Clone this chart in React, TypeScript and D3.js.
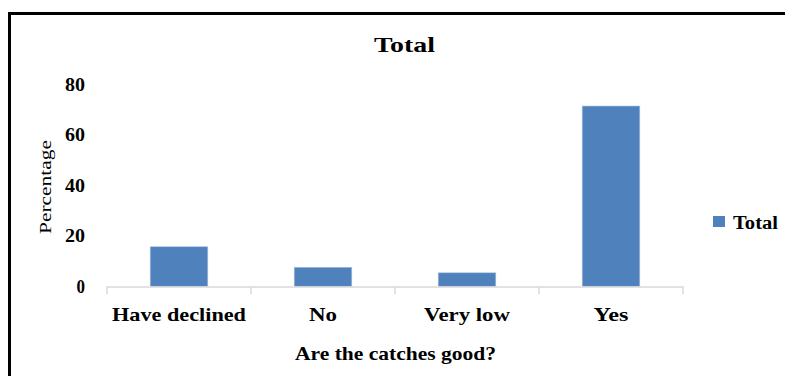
import React from "react";
import * as d3 from "d3";

// Survey answers: "Are the catches good?"
const categories = ["Have declined", "No", "Very low", "Yes"];
const totalValues = [15.7, 7.6, 5.4, 71.3];
const yTicks = [0, 20, 40, 60, 80];
const seriesName = "Total";
const chartTitle = "Total";
const xAxisTitle = "Are the catches good?";
const yAxisTitle = "Percentage";

// Rendered widths of the category labels in the condensed bold serif face
const categoryLabelWidths = [134, 28, 86, 35];

const W = 785;
const H = 376;
const FONT = "'Times New Roman', Times, Tinos, 'Liberation Serif', serif";
const BAR = "#4f81bd";

export default function App() {
  const x = d3.scaleBand<string>().domain(categories).range([107, 683]).paddingInner(0.6).paddingOuter(0.3);
  const y = d3.scaleLinear().domain([0, 80]).range([286.5, 84]);
  const step = x.step();
  const left = 107;
  const y0 = y(0);

  return (
    <svg
      width={W}
      height={H}
      viewBox={`0 0 ${W} ${H}`}
      style={{ position: "absolute", left: 0, top: 0, display: "block", background: "#fff" }}
    >
      <rect x={0} y={0} width={W} height={H} fill="#fff" />
      {/* outer frame */}
      <rect x={9.5} y={13.5} width={W + 20} height={H + 20} fill="none" stroke="#000" strokeWidth={3} />

      {/* title */}
      <text x={404.5} y={52} textAnchor="middle" fontFamily={FONT} fontWeight="bold" fontSize={22}
        textLength={61} lengthAdjust="spacingAndGlyphs">{chartTitle}</text>

      {/* y tick labels */}
      {yTicks.map((t) => (
        <text key={t} x={85} y={y(t) + 6.5} textAnchor="end" fontFamily={FONT} fontWeight="bold" fontSize={19}
          textLength={t === 0 ? 8.5 : 20} lengthAdjust="spacingAndGlyphs">
          {t}
        </text>
      ))}

      {/* y axis title */}
      <text transform="translate(51,187) rotate(-90)" textAnchor="middle" fontFamily={FONT} fontSize={17}
        textLength={94} lengthAdjust="spacingAndGlyphs">{yAxisTitle}</text>

      {/* bars */}
      {categories.map((c, i) => (
        <rect key={c} x={x(c)} y={y(totalValues[i])} width={x.bandwidth()} height={y0 - y(totalValues[i])}
          fill={BAR} stroke="#a9c1df" strokeWidth={0.6} />
      ))}

      {/* category axis */}
      <line x1={left} x2={left + step * categories.length} y1={y0 + 0.5} y2={y0 + 0.5} stroke="#d9d9d9" strokeWidth={1.5} />
      {d3.range(categories.length + 1).map((i) => (
        <line key={i} x1={left + i * step} x2={left + i * step} y1={y0} y2={294} stroke="#d9d9d9" strokeWidth={1.5} />
      ))}
      {categories.map((c, i) => (
        <text key={c} x={(x(c) ?? 0) + x.bandwidth() / 2} y={321} textAnchor="middle" fontFamily={FONT}
          fontWeight="bold" fontSize={19} textLength={categoryLabelWidths[i]} lengthAdjust="spacingAndGlyphs">{c}</text>
      ))}

      {/* x axis title */}
      <text x={395.5} y={360} textAnchor="middle" fontFamily={FONT} fontWeight="bold" fontSize={19}
        textLength={201} lengthAdjust="spacingAndGlyphs">{xAxisTitle}</text>

      {/* legend */}
      <rect x={713} y={216} width={12} height={11} fill={BAR} />
      <text x={733} y={229} fontFamily={FONT} fontWeight="bold" fontSize={18}
        textLength={45} lengthAdjust="spacingAndGlyphs">{seriesName}</text>
    </svg>
  );
}
